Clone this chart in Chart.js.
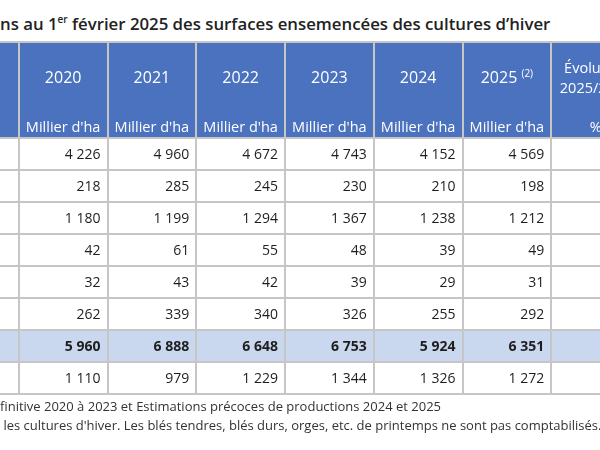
<!DOCTYPE html>
<html>
<head>
<meta charset="utf-8">
<script src="https://cdn.jsdelivr.net/npm/chart.js@4.4.1/dist/chart.umd.min.js"></script>
<style>
  html, body { margin: 0; padding: 0; background: #fff; }
  #wrap { position: relative; width: 600px; height: 450px; overflow: hidden; }
  #table { position: absolute; left: -70px; top: 0; }
  .title { position: absolute; left: 0; top: 12px; white-space: nowrap;
           font: 600 16.8px "Open Sans", sans-serif; color: #222; }
  .title sup { font-size: 10px; }
  .note { position: absolute; left: 0; white-space: nowrap;
          font: 13px "Open Sans", sans-serif; color: #333; }
</style>
</head>
<body>
<div id="wrap">
  <div class="title">ns au 1<sup>er</sup> février 2025 des surfaces ensemencées des cultures d’hiver</div>
  <canvas id="table" width="710" height="450"></canvas>
  <div class="note" style="top:397px">finitive 2020 à 2023 et Estimations précoces de productions 2024 et 2025</div>
  <div class="note" style="top:416px">&nbsp;les cultures d'hiver. Les blés tendres, blés durs, orges, etc. de printemps ne sont pas comptabilisés.</div>
</div>
<script>
// rows (labels are cropped out of the picture)
const crops = ['Blé tendre', 'Blé dur', 'Orge', 'Avoine', 'Seigle', 'Triticale', 'Total céréales', 'Colza'];
const years = ['2020', '2021', '2022', '2023', '2024', '2025'];
const unit = "Millier d'ha";

// thousand ha
const s2020 = [4226, 218, 1180, 42, 32, 262, 5960, 1110];
const s2021 = [4960, 285, 1199, 61, 43, 339, 6888, 979];
const s2022 = [4672, 245, 1294, 55, 42, 340, 6648, 1229];
const s2023 = [4743, 230, 1367, 48, 39, 326, 6753, 1344];
const s2024 = [4152, 210, 1238, 39, 29, 255, 5924, 1326];
const s2025 = [4569, 198, 1212, 49, 31, 292, 6351, 1272];
const series = [s2020, s2021, s2022, s2023, s2024, s2025];

const TOTAL_ROW = 6;
const HEAD = 3; // header takes 3 row units
const columns = [''].concat(years, ['Évolution']);

const BLUE = '#4b72be';
const LIGHT = '#c9d8ef';
const LINE = '#c6c6c6';
const FONT = '"Open Sans", sans-serif';

// 4 226 style, with a plain no-break space
const fmt = v => String(v).replace(/\B(?=(\d{3})+(?!\d))/g, '\u00a0');

const cellText = {
  id: 'cellText',
  afterDraw(chart) {
    const ctx = chart.ctx;
    const xs = chart.scales.x, ys = chart.scales.y;
    const colW = xs.width / columns.length;
    ctx.save();
    ctx.textBaseline = 'middle';

    // header
    ctx.fillStyle = '#fff';
    years.forEach((yr, j) => {
      const cx = xs.getPixelForValue(j + 1);
      ctx.textAlign = 'center';
      if (j === years.length - 1) {
        ctx.font = '16px ' + FONT;
        const w1 = ctx.measureText(yr + ' ').width;
        ctx.font = '10px ' + FONT;
        const w2 = ctx.measureText('(2)').width;
        const left = cx - (w1 + w2) / 2;
        ctx.textAlign = 'left';
        ctx.font = '16px ' + FONT;
        ctx.fillText(yr, left, ys.getPixelForValue(1.15));
        ctx.font = '10px ' + FONT;
        ctx.fillText('(2)', left + w1, ys.getPixelForValue(1.0));
        ctx.textAlign = 'center';
      } else {
        ctx.font = '16px ' + FONT;
        ctx.fillText(yr, cx, ys.getPixelForValue(1.15));
      }
      ctx.font = '14.5px ' + FONT;
      ctx.fillText(unit, cx, ys.getPixelForValue(2.68));
    });
    const ex = xs.getPixelForValue(columns.length - 1);
    ctx.textAlign = 'center';
    ctx.font = '14.5px ' + FONT;
    ctx.fillText('Évolution', ex, ys.getPixelForValue(0.85));
    ctx.fillText('2025/2024', ex, ys.getPixelForValue(1.47));
    ctx.fillText('%', ex, ys.getPixelForValue(2.68));

    // body
    ctx.fillStyle = '#1e1e1e';
    ctx.textAlign = 'right';
    series.forEach((vals, j) => {
      const rx = xs.getPixelForValue(j + 1) + colW / 2 - 7;
      vals.forEach((v, r) => {
        ctx.font = (r === TOTAL_ROW ? 'bold ' : '') + '14px ' + FONT;
        ctx.fillText(fmt(v), rx, ys.getPixelForValue(HEAD + r + 0.52));
      });
    });
    ctx.restore();
  }
};

new Chart(document.getElementById('table').getContext('2d'), {
  type: 'bar',
  data: {
    labels: columns,
    datasets: [
      {
        label: 'en-tête',
        data: columns.map(() => [0, HEAD]),
        backgroundColor: BLUE,
        grouped: false, barPercentage: 1, categoryPercentage: 1, borderWidth: 0
      },
      {
        label: crops[TOTAL_ROW],
        data: columns.map(() => [HEAD + TOTAL_ROW, HEAD + TOTAL_ROW + 1]),
        backgroundColor: LIGHT,
        grouped: false, barPercentage: 1, categoryPercentage: 1, borderWidth: 0
      }
    ]
  },
  options: {
    responsive: false,
    animation: false,
    layout: { padding: { top: 42, bottom: 56, left: 0, right: 0 } },
    plugins: { legend: { display: false }, tooltip: { enabled: false } },
    scales: {
      x: {
        grid: { offset: true, color: LINE, lineWidth: 2, drawTicks: false, z: 1 },
        ticks: { display: false },
        border: { display: false }
      },
      y: {
        type: 'linear',
        reverse: true,
        min: 0,
        max: HEAD + crops.length,
        ticks: { display: false, stepSize: 1 },
        grid: {
          color: c => (c.tick.value > 0 && c.tick.value < HEAD) ? 'rgba(0,0,0,0)' : LINE,
          lineWidth: 2, drawTicks: false, z: 1
        },
        border: { display: false }
      }
    }
  },
  plugins: [cellText]
});
</script>
</body>
</html>
